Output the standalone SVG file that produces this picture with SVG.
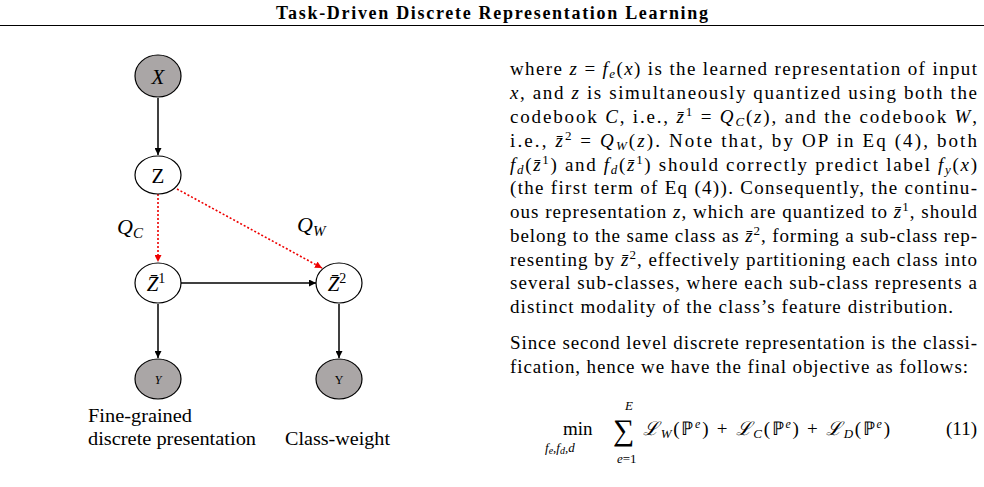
<svg xmlns="http://www.w3.org/2000/svg" width="984" height="487" viewBox="0 0 984 487">
<defs>
<marker id="ab" viewBox="0 0 10 10" refX="10" refY="5" markerWidth="7" markerHeight="7" orient="auto" markerUnits="userSpaceOnUse"><path d="M0,0 L10,5 L0,10 z" fill="#000"/></marker>
<marker id="ar" viewBox="0 0 10 10" refX="10" refY="5" markerWidth="7" markerHeight="7" orient="auto" markerUnits="userSpaceOnUse"><path d="M0,0 L10,5 L0,10 z" fill="#e00"/></marker>
</defs>
<style>
.g{fill:#aaa6a6;stroke:#000;stroke-width:1.2}
.w{fill:#fff;stroke:#000;stroke-width:1.2}
.e{stroke:#000;stroke-width:1.5;fill:none}
.r{stroke:#e00;stroke-width:1.6;fill:none;stroke-dasharray:2,2}
.n{font-family:"Liberation Serif",serif;fill:#000;text-anchor:middle}
.t{font-family:"Liberation Serif",serif;font-size:19px;fill:#000}
</style>
<rect width="984" height="487" fill="#fff"/>
<text x="276" y="19" font-family="Liberation Serif,serif" font-size="18" font-weight="bold" textLength="432" lengthAdjust="spacing">Task-Driven Discrete Representation Learning</text>
<line x1="0" y1="25.5" x2="984" y2="25.5" stroke="#000" stroke-width="1"/>
<g id="connectors">
<line class="e" x1="158" y1="98" x2="158" y2="155" marker-end="url(#ab)"/>
<line class="r" x1="158" y1="194" x2="158" y2="262" marker-end="url(#ar)"/>
<line class="r" x1="177" y1="189" x2="322" y2="268" marker-end="url(#ar)"/>
<line class="e" x1="181" y1="283" x2="316" y2="283" marker-end="url(#ab)"/>
<line class="e" x1="158" y1="304" x2="158" y2="358" marker-end="url(#ab)"/>
<line class="e" x1="339" y1="304" x2="339" y2="358" marker-end="url(#ab)"/>
</g>
<g id="nX"><ellipse class="g" cx="158" cy="76" rx="23" ry="21"/><text x="158" y="84" class="n" font-size="21" font-style="italic">X</text></g>
<g id="nZ"><ellipse class="w" cx="158" cy="175" rx="23" ry="19"/><text x="158" y="183" class="n" font-size="21">Z</text></g>
<g id="nZ1"><ellipse class="w" cx="158" cy="283" rx="23" ry="20"/><text x="156" y="291" class="n" font-size="21"><tspan font-style="italic">Z̄</tspan><tspan dy="-8" font-size="14">1</tspan></text></g>
<g id="nZ2"><ellipse class="w" cx="339" cy="283" rx="23" ry="20"/><text x="337" y="291" class="n" font-size="21"><tspan font-style="italic">Z̄</tspan><tspan dy="-8" font-size="14">2</tspan></text></g>
<g id="nY1"><ellipse class="g" cx="158" cy="379" rx="23" ry="20"/><text x="158" y="384" class="n" font-size="12" font-style="italic">Y</text></g>
<g id="nY2"><ellipse class="g" cx="339" cy="379" rx="23" ry="20"/><text x="339" y="384" class="n" font-size="12">Y</text></g>
<text x="117" y="234" font-family="Liberation Serif,serif" font-size="22" font-style="italic">Q<tspan font-size="15" dy="4">C</tspan></text>
<text x="297" y="232" font-family="Liberation Serif,serif" font-size="22" font-style="italic">Q<tspan font-size="15" dy="4">W</tspan></text>
<text x="88" y="422" font-family="Liberation Serif,serif" font-size="19" textLength="104" lengthAdjust="spacingAndGlyphs">Fine-grained</text>
<text x="88" y="445" font-family="Liberation Serif,serif" font-size="19" textLength="168" lengthAdjust="spacingAndGlyphs">discrete presentation</text>
<text x="285" y="445" font-family="Liberation Serif,serif" font-size="19" textLength="105" lengthAdjust="spacingAndGlyphs">Class-weight</text>
<g class="t">
<text x="510" y="75" textLength="467" lengthAdjust="spacing">where <tspan font-style="italic">z</tspan> = <tspan font-style="italic">f</tspan><tspan font-size="13" font-style="italic" dy="3">e</tspan><tspan dy="-3">(</tspan><tspan font-style="italic">x</tspan>) is the learned representation of input</text>
<text x="510" y="99" textLength="467" lengthAdjust="spacing"><tspan font-style="italic">x</tspan>, and <tspan font-style="italic">z</tspan> is simultaneously quantized using both the</text>
<text x="510" y="123" textLength="467" lengthAdjust="spacing">codebook <tspan font-style="italic">C</tspan>, i.e., <tspan font-style="italic">z̄</tspan><tspan font-size="13" dy="-7">1</tspan><tspan dy="7"> = </tspan><tspan font-style="italic">Q</tspan><tspan font-size="13" font-style="italic" dy="3">C</tspan><tspan dy="-3">(</tspan><tspan font-style="italic">z</tspan>), and the codebook <tspan font-style="italic">W</tspan>,</text>
<text x="510" y="147" textLength="467" lengthAdjust="spacing">i.e., <tspan font-style="italic">z̄</tspan><tspan font-size="13" dy="-7">2</tspan><tspan dy="7"> = </tspan><tspan font-style="italic">Q</tspan><tspan font-size="13" font-style="italic" dy="3">W</tspan><tspan dy="-3">(</tspan><tspan font-style="italic">z</tspan>). Note that, by OP in Eq (4), both</text>
<text x="510" y="171" textLength="467" lengthAdjust="spacing"><tspan font-style="italic">f</tspan><tspan font-size="13" font-style="italic" dy="3">d</tspan><tspan dy="-3">(</tspan><tspan font-style="italic">z̄</tspan><tspan font-size="13" dy="-7">1</tspan><tspan dy="7">) and </tspan><tspan font-style="italic">f</tspan><tspan font-size="13" font-style="italic" dy="3">d</tspan><tspan dy="-3">(</tspan><tspan font-style="italic">z̄</tspan><tspan font-size="13" dy="-7">1</tspan><tspan dy="7">) should correctly predict label </tspan><tspan font-style="italic">f</tspan><tspan font-size="13" font-style="italic" dy="3">y</tspan><tspan dy="-3">(</tspan><tspan font-style="italic">x</tspan>)</text>
<text x="510" y="194" textLength="467" lengthAdjust="spacing">(the first term of Eq (4)). Consequently, the continu-</text>
<text x="510" y="218" textLength="467" lengthAdjust="spacing">ous representation <tspan font-style="italic">z</tspan>, which are quantized to <tspan font-style="italic">z̄</tspan><tspan font-size="13" dy="-7">1</tspan><tspan dy="7">, should</tspan></text>
<text x="510" y="242" textLength="467" lengthAdjust="spacing">belong to the same class as <tspan font-style="italic">z̄</tspan><tspan font-size="13" dy="-7">2</tspan><tspan dy="7">, forming a sub-class rep-</tspan></text>
<text x="510" y="266" textLength="467" lengthAdjust="spacing">resenting by <tspan font-style="italic">z̄</tspan><tspan font-size="13" dy="-7">2</tspan><tspan dy="7">, effectively partitioning each class into</tspan></text>
<text x="510" y="289" textLength="467" lengthAdjust="spacing">several sub-classes, where each sub-class represents a</text>
<text x="510" y="313" textLength="443" lengthAdjust="spacing">distinct modality of the class’s feature distribution.</text>
<text x="510" y="349" textLength="467" lengthAdjust="spacing">Since second level discrete representation is the classi-</text>
<text x="510" y="373" textLength="458" lengthAdjust="spacing">fication, hence we have the final objective as follows:</text>
<text x="563" y="435">min</text>
<text x="545" y="452" font-size="13" font-style="italic">f<tspan font-size="10" dy="2">e</tspan><tspan dy="-2">,f</tspan><tspan font-size="10" dy="2">d</tspan><tspan dy="-2">,d</tspan></text>
<text x="625" y="410" font-size="13" font-style="italic">E</text>
<text x="613" y="440" font-size="30">∑</text>
<text x="617" y="463" font-size="13"><tspan font-style="italic">e</tspan>=1</text>
<text x="643" y="435" textLength="247" lengthAdjust="spacing"><tspan font-style="italic">ℒ</tspan><tspan font-size="13" font-style="italic" dy="3">W</tspan><tspan dy="-3">(ℙ</tspan><tspan font-size="12" font-style="italic" dy="-7">e</tspan><tspan dy="7">) + </tspan><tspan font-style="italic">ℒ</tspan><tspan font-size="13" font-style="italic" dy="3">C</tspan><tspan dy="-3">(ℙ</tspan><tspan font-size="12" font-style="italic" dy="-7">e</tspan><tspan dy="7">) + </tspan><tspan font-style="italic">ℒ</tspan><tspan font-size="13" font-style="italic" dy="3">D</tspan><tspan dy="-3">(ℙ</tspan><tspan font-size="12" font-style="italic" dy="-7">e</tspan><tspan dy="7">)</tspan></text>
<text x="977" y="435" text-anchor="end">(11)</text>
</g>
</svg>
